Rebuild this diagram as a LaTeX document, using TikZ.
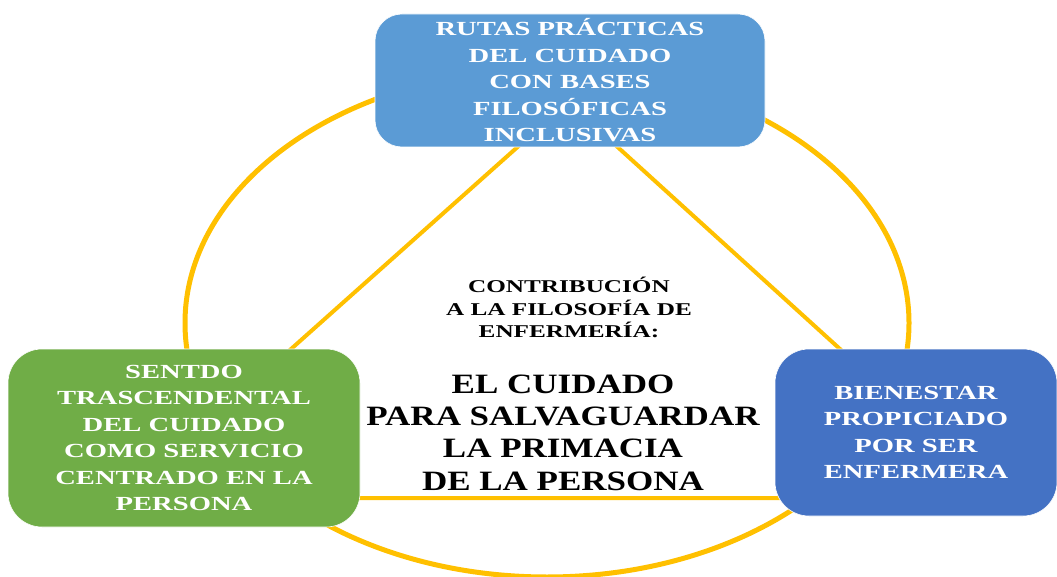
\documentclass[tikz,border=0pt]{standalone}
\usepackage{fontspec}
\setmainfont{Liberation Serif}
\newfontfamily\boxfont[FakeStretch=1.43]{Liberation Serif}
\newfontfamily\smallfont[FakeStretch=1.40]{Liberation Serif}
\newfontfamily\bigfont[FakeStretch=1.25]{Liberation Serif}
\usetikzlibrary{shapes.geometric}
\definecolor{gold}{HTML}{FFC000}
\definecolor{topblue}{HTML}{5B9BD5}
\definecolor{leafgreen}{HTML}{70AD47}
\definecolor{deepblue}{HTML}{4472C4}
\tikzset{
  ringline/.style={draw=gold, line width=5pt},
  triline/.style={draw=gold, line width=4pt},
  boxnode/.style={rectangle, draw=white, line width=0.6pt, text=white, align=center, inner sep=0pt,
    font=\boxfont\bfseries\fontsize{20}{26.5}\selectfont},
  smalltext/.style={align=center, inner sep=0pt, font=\smallfont\bfseries\fontsize{18}{22.5}\selectfont},
  bigtext/.style={align=center, inner sep=0pt, font=\bigfont\bfseries\fontsize{28}{32.3}\selectfont}
}
\begin{document}
\begin{tikzpicture}[x=1pt, y=-1pt]
\useasboundingbox (0,0) rectangle (1057,577);
% oval ring
\node[ellipse, ringline, minimum width=724pt, minimum height=508pt, inner sep=0pt] (ring) at (547,323) {};
% triangle
\coordinate (tA) at (568,102);
\coordinate (tL) at (124,498);
\coordinate (tR) at (1004,498);
\draw[triline, line join=miter] (tA) -- (tL) -- (tR) -- cycle;
% boxes
\node[boxnode, fill=topblue, rounded corners=27pt, minimum width=390pt, minimum height=133pt] (top) at (570,80.5)
  {RUTAS PRÁCTICAS\\DEL CUIDADO\\CON BASES\\FILOSÓFICAS\\INCLUSIVAS};
\node[boxnode, fill=leafgreen, rounded corners=34pt, minimum width=352pt, minimum height=178pt] (left) at (184,438)
  {SENTDO\\TRASCENDENTAL\\DEL CUIDADO\\COMO SERVICIO\\CENTRADO EN LA\\PERSONA};
\node[boxnode, fill=deepblue, rounded corners=34pt, minimum width=282pt, minimum height=167pt] (right) at (916,432.5)
  {BIENESTAR\\PROPICIADO\\POR SER\\ENFERMERA};
% centre texts
\node[smalltext] (contrib) at (569,307.5) {CONTRIBUCIÓN\\A LA FILOSOFÍA DE\\ENFERMERÍA:};
\node[bigtext] (main) at (563,432.5) {EL CUIDADO\\PARA SALVAGUARDAR\\LA PRIMACIA\\DE LA PERSONA};
\end{tikzpicture}
\end{document}
